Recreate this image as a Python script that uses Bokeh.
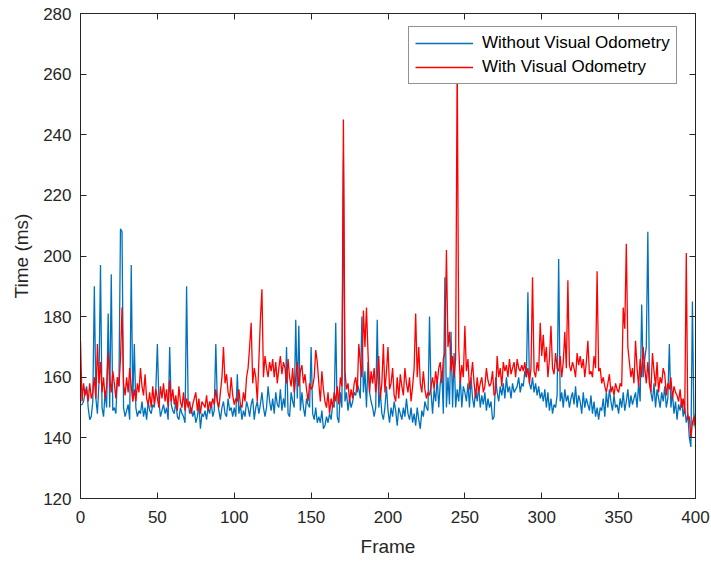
from bokeh.plotting import figure
from bokeh.models import Range1d, LinearAxis, FixedTicker, Legend, LegendItem
from bokeh.embed import file_html
from bokeh.resources import INLINE

# Per-frame processing time (ms)
without_vo = [
    151, 151, 152, 155, 157, 150, 146, 147, 152, 190,
    153, 148, 158, 197, 150, 147, 155, 150, 181, 150,
    194, 149, 150, 148, 160, 157, 209, 208, 150, 147,
    149, 151, 146, 197, 152, 171, 150, 147, 149, 148,
    152, 147, 150, 146, 152, 149, 148, 151, 150, 156,
    171, 152, 147, 149, 151, 148, 150, 146, 170, 151,
    149, 148, 152, 147, 146, 150, 148, 147, 145, 190,
    152, 148, 150, 147, 149, 145, 147, 151, 143, 148,
    147, 149, 146, 150, 148, 152, 147, 149, 171, 152,
    149, 146, 150, 152, 148, 147, 153, 149, 150, 147,
    150, 147, 161, 148, 151, 146, 149, 147, 152, 150,
    147, 151, 153, 146, 150, 152, 148, 151, 155, 150,
    147, 150, 157, 152, 149, 153, 148, 155, 151, 150,
    156, 149, 153, 150, 170, 148, 147, 155, 152, 150,
    179, 153, 177, 149, 155, 150, 147, 153, 151, 150,
    170, 148, 146, 150, 145, 147, 145, 149, 143, 144,
    147, 145, 148, 146, 151, 150, 178, 147, 145, 155,
    150, 232, 152, 155, 149, 153, 150, 152, 155, 154,
    158, 156, 153, 180, 155, 162, 150, 165, 155, 152,
    150, 147, 150, 179, 150, 155, 148, 146, 150, 157,
    149, 145, 150, 147, 152, 149, 144, 150, 148, 146,
    150, 147, 153, 148, 146, 150, 145, 148, 144, 150,
    146, 143, 149, 147, 152, 150, 149, 180, 155, 148,
    156, 152, 160, 150, 158, 162, 148, 193, 150, 160,
    151, 175, 150, 168, 150, 156, 152, 160, 150, 157,
    155, 152, 158, 150, 160, 153, 150, 156, 152, 157,
    150, 154, 151, 155, 149, 153, 150, 152, 146, 147,
    160, 155, 152, 157, 154, 158, 153, 160, 155, 157,
    153, 158, 155, 156, 157, 160, 155, 158, 157, 162,
    160, 188, 158, 156, 160, 155, 158, 154, 157, 153,
    155, 152, 156, 150, 155, 149, 153, 148, 151, 150,
    154, 199, 152, 155, 150, 156, 152, 154, 150, 153,
    155, 151, 157, 150, 154, 152, 148, 155, 150, 153,
    151, 149, 154, 148, 152, 147, 150, 146, 150, 149,
    153, 147, 155, 150, 156, 152, 149, 154, 150, 151,
    148, 153, 150, 155, 149, 152, 156, 150, 154, 151,
    153, 155, 150, 158, 152, 184, 160, 166, 170, 208,
    160, 155, 152, 158, 150, 156, 153, 150, 155, 152,
    157, 150, 153, 171, 150, 155, 148, 152, 146, 151,
    149, 153, 147, 150, 145, 148, 140, 137, 185, 144,
    148,
]

with_vo = [
    172, 152, 158, 154, 156, 152, 158, 153, 155, 160,
    153, 171, 158, 165, 155, 160, 153, 157, 168, 160,
    155, 162, 158, 153, 160, 157, 166, 183, 158, 154,
    160, 155, 163, 157, 152, 156, 152, 158, 155, 163,
    157, 154, 161, 153, 151, 155, 150, 157, 151, 156,
    153, 150, 157, 153, 158, 152, 156, 150, 159, 152,
    156, 151, 154, 149, 157, 152, 150, 155, 149, 153,
    150, 152, 148, 151, 153, 155, 149, 153, 148, 152,
    151, 150, 154, 149, 152, 150, 153, 151, 156, 152,
    150, 155, 160, 170, 158, 161, 155, 153, 160, 154,
    151, 153, 152, 156, 151, 150, 155, 152, 160, 163,
    170, 178, 158, 163, 160, 152, 165, 179, 189, 160,
    167, 163, 160, 165, 162, 166, 160, 165, 158, 163,
    167, 161, 165, 163, 158, 166, 160, 157, 163, 155,
    160, 165, 157, 162, 164, 158, 161, 156, 152, 158,
    156, 157, 160, 169, 165, 158, 152, 162, 156, 152,
    150, 155, 148, 153, 150, 155, 152, 157, 151, 160,
    157, 245, 162, 156, 158, 152, 156, 153, 158, 160,
    155, 171, 165, 160, 182, 170, 183, 168, 155, 162,
    158, 163, 155, 160, 167, 153, 158, 171, 155, 162,
    170, 156, 158, 163, 154, 152, 160, 153, 161, 157,
    154, 163, 158, 155, 160, 152, 157, 163, 181, 160,
    170, 158, 155, 162, 156, 153, 155, 154, 157, 160,
    156, 162, 158, 163, 165, 158, 166, 168, 202, 170,
    175, 162, 167, 160, 166, 266, 170, 158, 164, 160,
    177, 162, 166, 156, 160, 165, 158, 153, 160, 155,
    158, 160, 155, 157, 163, 159, 157, 158, 162, 154,
    155, 167, 160, 163, 157, 165, 162, 164, 160, 166,
    161, 163, 165, 160, 166, 163, 162, 164, 162, 165,
    160, 163, 158, 163, 193, 162, 160, 165, 162, 178,
    167, 174, 165, 170, 160, 166, 177, 163, 161, 168,
    163, 162, 167, 160, 165, 175, 163, 192, 164, 162,
    165, 163, 160, 168, 164, 167, 163, 166, 160, 165,
    172, 161, 162, 160, 167, 163, 195, 162, 163, 158,
    160, 157, 155, 158, 161, 155, 157, 154, 158, 156,
    155, 158, 157, 183, 176, 204, 170, 165, 160, 163,
    158, 172, 163, 157, 166, 160, 170, 163, 158, 165,
    158, 155, 168, 162, 157, 165, 155, 160, 158, 163,
    161, 154, 158, 156, 160, 153, 157, 155, 154, 152,
    156, 150, 153, 148, 201, 146, 147, 140, 145, 147,
    143,
]

frames = list(range(len(without_vo)))
x_ticks = [0, 50, 100, 150, 200, 250, 300, 350, 400]
y_ticks = [120, 140, 160, 180, 200, 220, 240, 260, 280]

FONT = "Liberation Sans"
AX = "#262626"

p = figure(
    width=711, height=565,
    output_backend="svg", toolbar_location=None,
    x_range=Range1d(0, 400), y_range=Range1d(120, 280),
    min_border_left=80, min_border_right=16,
    min_border_top=13, min_border_bottom=67,
    x_axis_label="Frame", y_axis_label="Time (ms)",
)
p.background_fill_color = "white"
p.border_fill_color = "white"
p.outline_line_color = AX
p.outline_line_width = 1
p.xgrid.visible = False
p.ygrid.visible = False

for ax in (p.xaxis[0], p.yaxis[0]):
    ax.axis_line_color = AX
    ax.major_tick_line_color = AX
    ax.major_tick_in = 6
    ax.major_tick_out = 0
    ax.minor_tick_line_color = None
    ax.major_label_text_font = FONT
    ax.major_label_text_font_size = "17px"
    ax.major_label_text_color = AX
    ax.axis_label_text_font = FONT
    ax.axis_label_text_font_size = "19px"
    ax.axis_label_text_font_style = "normal"
    ax.axis_label_text_color = AX
p.xaxis[0].ticker = FixedTicker(ticks=x_ticks)
p.yaxis[0].ticker = FixedTicker(ticks=y_ticks)
p.xaxis[0].major_label_standoff = 12
p.yaxis[0].major_label_standoff = 9
p.xaxis[0].axis_label_standoff = 10
p.yaxis[0].axis_label_standoff = 8

# box ticks on the right and top, without labels
right = LinearAxis(ticker=FixedTicker(ticks=y_ticks),
                   major_label_overrides={t: "" for t in y_ticks},
                   major_tick_in=6, major_tick_out=0, minor_tick_line_color=None,
                   axis_line_color=AX, major_tick_line_color=AX, major_label_standoff=0)
top = LinearAxis(ticker=FixedTicker(ticks=x_ticks),
                 major_label_overrides={t: "" for t in x_ticks},
                 major_tick_in=6, major_tick_out=0, minor_tick_line_color=None,
                 axis_line_color=AX, major_tick_line_color=AX, major_label_standoff=0)
p.add_layout(right, "right")
p.add_layout(top, "above")

r_blue = p.line(frames, without_vo, line_color="#0072BD", line_width=1.3)
r_red = p.line(frames, with_vo, line_color="#FF0000", line_width=1.3)

legend = Legend(items=[
    LegendItem(label="Without Visual Odometry", renderers=[r_blue]),
    LegendItem(label="With Visual Odometry", renderers=[r_red]),
])
# bottom-left corner of the legend box, in px from the frame's bottom-left
legend.location = (328, 414)
legend.margin = 0
legend.padding = 6
legend.spacing = 4
legend.glyph_width = 58
legend.glyph_height = 20
legend.label_standoff = 9
legend.label_height = 20
legend.label_text_font = FONT
legend.label_text_font_size = "17px"
legend.label_text_color = "black"
legend.border_line_color = AX
legend.border_line_width = 1
legend.background_fill_color = "white"
legend.background_fill_alpha = 1.0
p.add_layout(legend, "center")

open("out.html", "w").write(file_html(p, INLINE))
